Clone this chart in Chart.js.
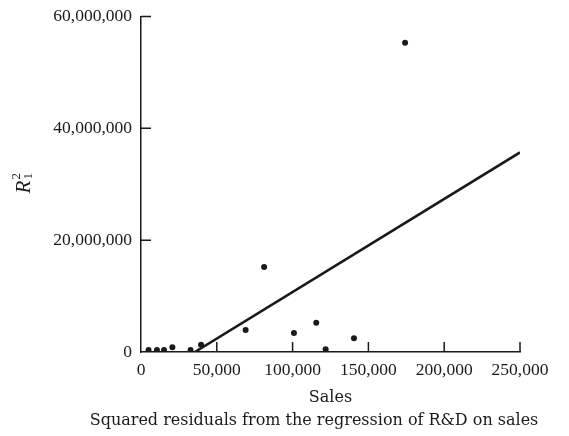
<!DOCTYPE html>
<html>
<head>
<meta charset="utf-8">
<script src="https://cdn.jsdelivr.net/npm/chart.js@4.4.1/dist/chart.umd.min.js"></script>
<style>
html,body{margin:0;padding:0;background:#fff;}
#wrap{width:569px;height:436px;position:relative;}
</style>
</head>
<body>
<div id="wrap"><canvas id="c" width="569" height="436"></canvas></div>
<script>
// Data
const salesX   = [5000, 10500, 15200, 20700, 32700, 39600, 69000, 81200, 100900, 115600, 121800, 140500, 174200];
const residSq  = [350000, 350000, 350000, 840000, 350000, 1300000, 3930000, 15200000, 3390000, 5230000, 480000, 2450000, 55300000];
const fitX     = [35500, 250000];
const fitY     = [0, 35700000];
const xTicks   = [0, 50000, 100000, 150000, 200000, 250000];
const yTicks   = [0, 20000000, 40000000, 60000000];
const xTitle   = 'Sales';
const caption  = 'Squared residuals from the regression of R&D on sales';

const NUMFONT = '"Liberation Serif", serif';
const FONT = '"DejaVu Serif", serif';
const INK = '#1a1a1a';

const fmt = v => Number(v).toLocaleString('en-US');

const extras = {
  id: 'extras',
  afterDraw(chart) {
    const ctx = chart.ctx;
    const xs = chart.scales.x, ys = chart.scales.y;
    ctx.save();
    ctx.strokeStyle = INK;
    ctx.lineWidth = 1.5;
    // inward tick marks
    ctx.beginPath();
    xTicks.forEach(v => {
      if (v === 0) return;
      const px = xs.getPixelForValue(v);
      ctx.moveTo(px, ys.bottom);
      ctx.lineTo(px, ys.bottom - 10);
    });
    yTicks.forEach(v => {
      if (v === 0) return;
      const py = ys.getPixelForValue(v);
      ctx.moveTo(xs.left, py);
      ctx.lineTo(xs.left + 10, py);
    });
    ctx.stroke();

    ctx.fillStyle = INK;
    ctx.textBaseline = 'middle';
    ctx.textAlign = 'center';
    ctx.font = '16px ' + FONT;
    ctx.fillText(xTitle, (xs.left + xs.right) / 2, 398);
    ctx.fillText(caption, 314, 421);

    // y title: R with super 2 and sub 1
    ctx.translate(24, 183);
    ctx.rotate(-Math.PI / 2);
    ctx.textAlign = 'left';
    ctx.font = 'italic 21px ' + NUMFONT;
    const rw = ctx.measureText('R').width;
    ctx.fillText('R', -rw / 2 - 4, 0);
    ctx.font = '13px ' + NUMFONT;
    ctx.fillText('2', rw / 2 - 3, -7);
    ctx.fillText('1', rw / 2 - 3, 5);
    ctx.restore();
  }
};

new Chart(document.getElementById('c'), {
  type: 'scatter',
  data: {
    datasets: [
      {
        label: 'Squared residuals',
        data: salesX.map((x, i) => ({x: x, y: residSq[i]})),
        pointRadius: 3,
        pointBackgroundColor: INK,
        pointBorderWidth: 0,
        showLine: false
      },
      {
        label: 'Fit',
        data: fitX.map((x, i) => ({x: x, y: fitY[i]})),
        showLine: true,
        borderColor: INK,
        borderWidth: 2.6,
        pointRadius: 0,
        fill: false
      }
    ]
  },
  options: {
    responsive: false,
    animation: false,
    layout: {padding: {left: 0, right: 49, top: 16.5, bottom: 0}},
    plugins: {legend: {display: false}, tooltip: {enabled: false}},
    scales: {
      x: {
        type: 'linear',
        min: 0, max: 250000,
        afterFit: s => { s.height = 84; },
        afterBuildTicks: s => { s.ticks = xTicks.map(v => ({value: v})); },
        grid: {display: false},
        border: {display: true, color: INK, width: 1.5},
        ticks: {
          color: INK, padding: 0, maxRotation: 0, autoSkip: false,
          font: {family: NUMFONT, size: 17.5},
          callback: v => fmt(v)
        }
      },
      y: {
        type: 'linear',
        min: 0, max: 60000000,
        afterFit: s => { s.width = 141; },
        afterBuildTicks: s => { s.ticks = yTicks.map(v => ({value: v})); },
        grid: {display: false},
        border: {display: true, color: INK, width: 1.5},
        ticks: {
          color: INK, padding: 1, autoSkip: false,
          font: {family: NUMFONT, size: 17.5},
          callback: v => fmt(v)
        }
      }
    }
  },
  plugins: [extras]
});
</script>
</body>
</html>
